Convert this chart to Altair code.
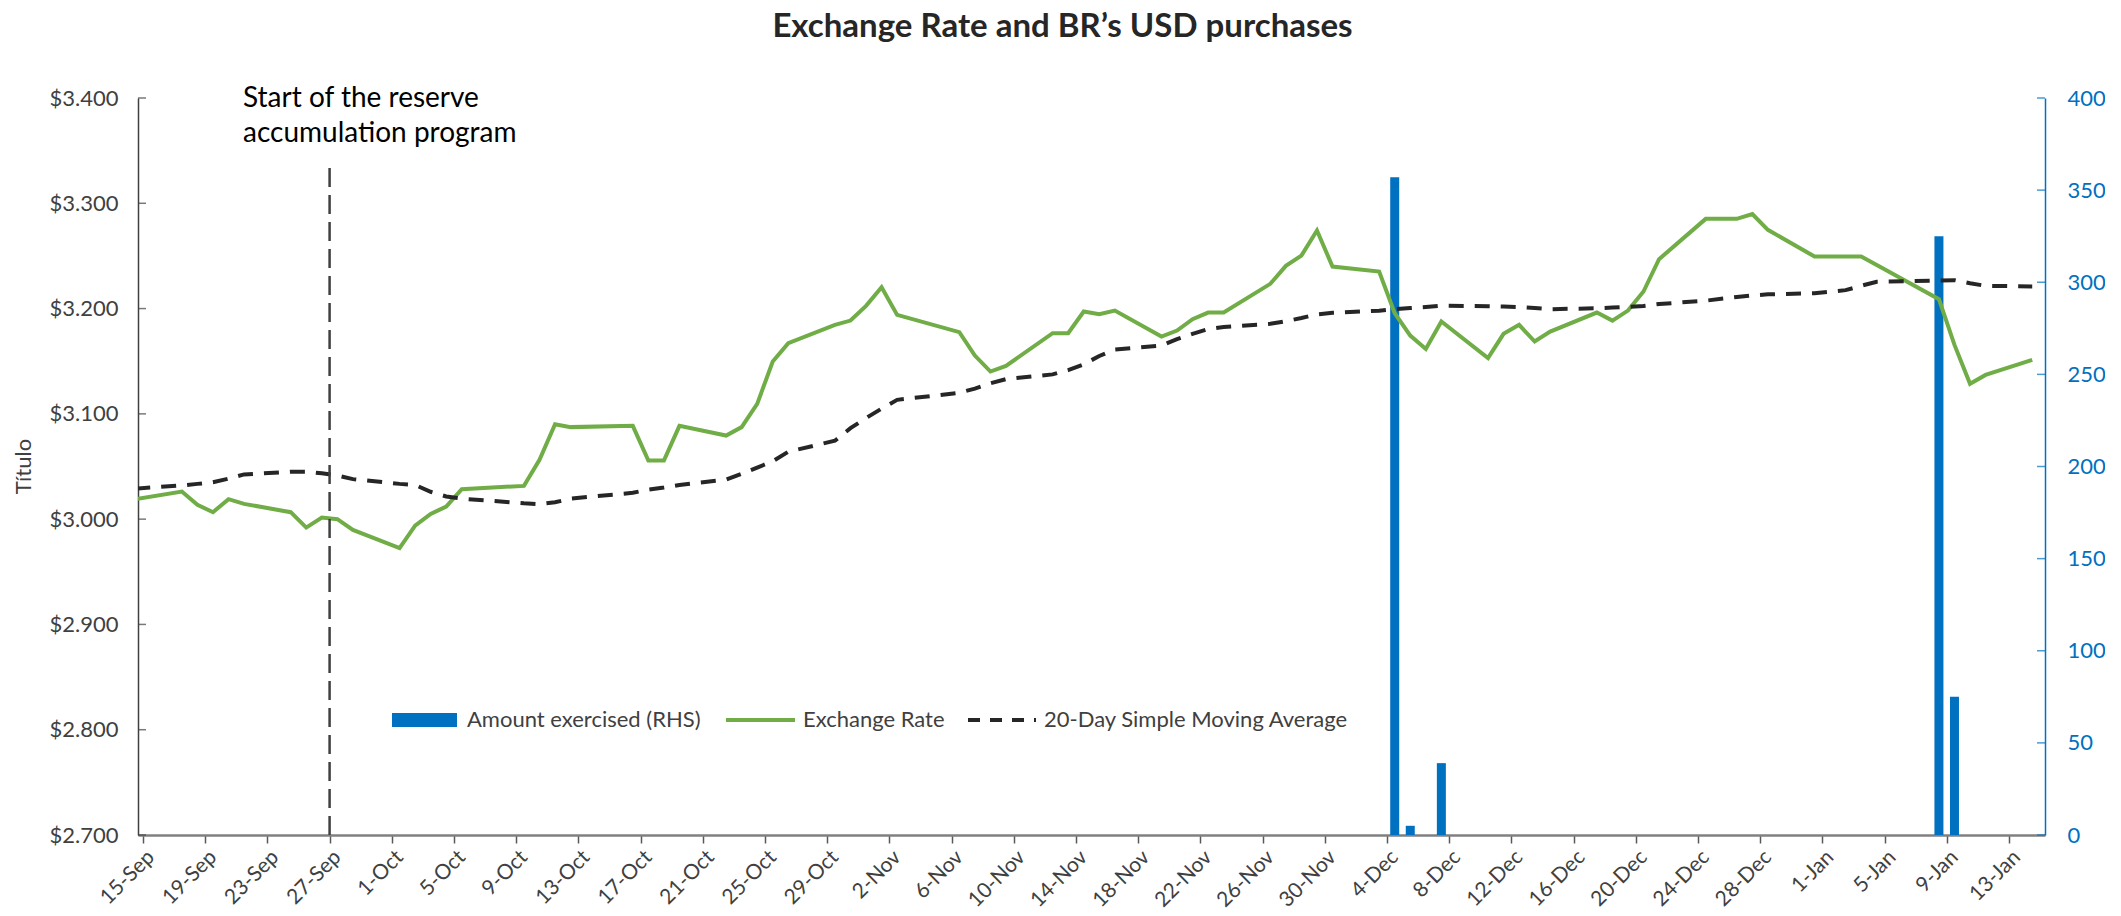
import altair as alt
import pandas as pd

# ---------------- data ----------------
title_text = "Exchange Rate and BR\u2019s USD purchases"
y_title = "Título"
annotation_lines = ["Start of the reserve", "accumulation program"]
legend_labels = ["Amount exercised (RHS)", "Exchange Rate", "20-Day Simple Moving Average"]

rate_dates = ["2018-09-14", "2018-09-17", "2018-09-18", "2018-09-19", "2018-09-20", "2018-09-21",
              "2018-09-24", "2018-09-25", "2018-09-26", "2018-09-27", "2018-09-28", "2018-10-01",
              "2018-10-02", "2018-10-03", "2018-10-04", "2018-10-05", "2018-10-09", "2018-10-10",
              "2018-10-11", "2018-10-12", "2018-10-16", "2018-10-17", "2018-10-18", "2018-10-19",
              "2018-10-22", "2018-10-23", "2018-10-24", "2018-10-25", "2018-10-26", "2018-10-29",
              "2018-10-30", "2018-10-31", "2018-11-01", "2018-11-02", "2018-11-06", "2018-11-07",
              "2018-11-08", "2018-11-09", "2018-11-12", "2018-11-13", "2018-11-14", "2018-11-15",
              "2018-11-16", "2018-11-19", "2018-11-20", "2018-11-21", "2018-11-22", "2018-11-23",
              "2018-11-26", "2018-11-27", "2018-11-28", "2018-11-29", "2018-11-30", "2018-12-03",
              "2018-12-04", "2018-12-05", "2018-12-06", "2018-12-07", "2018-12-10", "2018-12-11",
              "2018-12-12", "2018-12-13", "2018-12-14", "2018-12-17", "2018-12-18", "2018-12-19",
              "2018-12-20", "2018-12-21", "2018-12-24", "2018-12-26", "2018-12-27", "2018-12-28",
              "2018-12-31", "2019-01-02", "2019-01-03", "2019-01-04", "2019-01-08", "2019-01-09",
              "2019-01-10", "2019-01-11", "2019-01-14"]

exchange_rate = [3019, 3026.2, 3013.6, 3006.6, 3019, 3014.5,
                 3006.6, 2992, 3001.5, 3000, 2989.8, 2972.5,
                 2993.9, 3005, 3012, 3028.5, 3031.6, 3056.3,
                 3090.2, 3087.4, 3088.6, 3055.7, 3055.7, 3088.6,
                 3079.4, 3087.4, 3109.5, 3149.7, 3167.1, 3184.5,
                 3188.6, 3202.6, 3220.3, 3194, 3177.6, 3155.4,
                 3140.2, 3145.6, 3176.6, 3176.6, 3197.2, 3194.7,
                 3198.1, 3173.4, 3179.1, 3189.9, 3196.2, 3196.2,
                 3223.5, 3240.6, 3250.3, 3274.1, 3239.9, 3235.1,
                 3195.6, 3174.4, 3161.7, 3187.7, 3152.9, 3176,
                 3184.5, 3168.7, 3178.2, 3196.2, 3188.6, 3198.1,
                 3216.2, 3246.9, 3285.2, 3285.2, 3289.7, 3274.8,
                 3249.4, 3249.4, 3249.4, 3241.3, 3208.9, 3165.5,
                 3128.5, 3137, 3151.3]

sma_20 = [3029, 3032, 3033.5, 3035, 3038.5, 3042.5,
          3045, 3045, 3043.5, 3041.5, 3038, 3033.5,
          3032.5, 3026, 3021.5, 3019.5, 3015, 3014.3,
          3016, 3019.5, 3025, 3028, 3030, 3032.5,
          3037.5, 3043, 3049, 3055, 3064, 3074.5,
          3086.4, 3096, 3105, 3113.3, 3120, 3124,
          3129, 3133, 3137.5, 3141.5, 3147, 3155,
          3161, 3165, 3171, 3176, 3180.5, 3182.5,
          3185.5, 3188, 3191, 3194.5, 3196, 3198,
          3199.5, 3200.5, 3201.5, 3202.8, 3202.3, 3202,
          3201.5, 3200.5, 3199.4, 3200.3, 3201, 3201.7,
          3202.5, 3204.3, 3207.5, 3211, 3212.4, 3213.5,
          3214.6, 3217.5, 3221.6, 3225.5, 3226.5, 3227,
          3224, 3221.6, 3221]

bar_dates = ["2018-12-04", "2018-12-05", "2018-12-07", "2019-01-08", "2019-01-09"]
amount_exercised = [357, 5, 39, 325, 75]

program_start = ["2018-09-27"]
program_line_range = [2700, 3335]

x_tick_dates = ["2018-09-15", "2018-09-19", "2018-09-23", "2018-09-27", "2018-10-01", "2018-10-05",
                "2018-10-09", "2018-10-13", "2018-10-17", "2018-10-21", "2018-10-25", "2018-10-29",
                "2018-11-02", "2018-11-06", "2018-11-10", "2018-11-14", "2018-11-18", "2018-11-22",
                "2018-11-26", "2018-11-30", "2018-12-04", "2018-12-08", "2018-12-12", "2018-12-16",
                "2018-12-20", "2018-12-24", "2018-12-28", "2019-01-01", "2019-01-05", "2019-01-09",
                "2019-01-13"]
x_domain = ["2018-09-15", "2019-01-15"]
left_ticks = [2700, 2800, 2900, 3000, 3100, 3200, 3300, 3400]
right_ticks = [0, 50, 100, 150, 200, 250, 300, 350, 400]

# ---------------- style ----------------
W, H = 1907, 737
FONT = "Lato"
TXT = "#404040"
GREEN = "#70AD47"
BLUE = "#0070C0"
DARK = "#262626"


def dt(s):
    y, m, d = (int(p) for p in s.split("-"))
    return alt.DateTime(year=y, month=m, date=d)


rate_df = pd.DataFrame({
    "date": pd.to_datetime(rate_dates) + pd.Timedelta(hours=12),
    "rate": exchange_rate,
    "sma": sma_20,
})
bar_df = pd.DataFrame({
    "date": pd.to_datetime(bar_dates) + pd.Timedelta(hours=12),
    "amount": amount_exercised,
})
rule_df = pd.DataFrame({
    "date": pd.to_datetime(program_start),
    "y0": [program_line_range[0]],
    "y1": [program_line_range[1]],
})
lt_df = pd.DataFrame({"v": left_ticks})
rt_df = pd.DataFrame({"v": right_ticks})
one = pd.DataFrame({"k": [0]})

x_scale = alt.Scale(domain=[dt(x_domain[0]), dt(x_domain[1])])
y_left = alt.Scale(domain=[2700, 3400], nice=False, zero=False)
y_right = alt.Scale(domain=[0, 400], nice=False)

x_axis = alt.Axis(
    values=[dt(s) for s in x_tick_dates], format="%-d-%b", labelAngle=-45,
    labelAlign="right", labelBaseline="top", labelFontSize=21, labelFont=FONT,
    labelColor=TXT, tickColor="#595959", tickSize=8, tickWidth=1.5,
    domainColor="#808080", domainWidth=2.5, labelPadding=3, grid=False, title=None,
    labelOverlap=False,
)
left_axis = alt.Axis(
    values=left_ticks, labelExpr="'$' + format(datum.value / 1000, '.3f')",
    labelFontSize=22, labelFont=FONT, labelColor=TXT, ticks=False, labelPadding=20,
    domainColor="#404040", domainWidth=1.5, grid=False, title=None,
)
right_axis = alt.Axis(
    values=right_ticks, orient="right", labelFontSize=22, labelFont=FONT,
    labelColor=BLUE, ticks=False, labelPadding=22, domainColor=BLUE,
    domainWidth=1.5, grid=False, title=None,
)

rate_line = alt.Chart(rate_df).mark_line(color=GREEN, strokeWidth=4, clip=True).encode(
    x=alt.X("date:T", scale=x_scale, axis=x_axis),
    y=alt.Y("rate:Q", scale=y_left, axis=left_axis),
)
sma_line = alt.Chart(rate_df).mark_line(color=DARK, strokeWidth=4, strokeDash=[15, 11], clip=True).encode(
    x=alt.X("date:T", scale=x_scale),
    y=alt.Y("sma:Q", scale=y_left),
)
start_rule = alt.Chart(rule_df).mark_rule(color="#404040", strokeWidth=2.5, strokeDash=[19, 8]).encode(
    x=alt.X("date:T", scale=x_scale),
    y=alt.Y("y0:Q", scale=y_left),
    y2="y1:Q",
)
lticks = alt.Chart(lt_df).mark_tick(color="#404040", size=8, thickness=1.5).encode(
    x=alt.value(4),
    y=alt.Y("v:Q", scale=y_left),
)

annotation = alt.Chart(one).mark_text(
    text=annotation_lines, font=FONT, fontSize=28, color="#000000", align="left",
    baseline="alphabetic", lineHeight=35,
).encode(x=alt.value(105), y=alt.value(9))

ytitle = alt.Chart(one).mark_text(
    text=y_title, font=FONT, fontSize=22, color=TXT, angle=270,
    align="center", baseline="middle",
).encode(x=alt.value(-114), y=alt.value(H / 2))

LY = 622
leg_bar = alt.Chart(one).mark_rect(color=BLUE).encode(
    x=alt.value(254), x2=alt.value(319), y=alt.value(LY - 7), y2=alt.value(LY + 7))
leg_green = alt.Chart(one).mark_rule(color=GREEN, strokeWidth=4).encode(
    x=alt.value(588), x2=alt.value(657), y=alt.value(LY))
leg_dash = alt.Chart(one).mark_rule(color=DARK, strokeWidth=4, strokeDash=[12, 10]).encode(
    x=alt.value(830), x2=alt.value(898), y=alt.value(LY))
leg_texts = [
    alt.Chart(one).mark_text(text=lbl, font=FONT, fontSize=22, color=TXT, align="left",
                             baseline="middle").encode(x=alt.value(px), y=alt.value(LY))
    for lbl, px in zip(legend_labels, [329, 665, 906])
]

left_group = alt.layer(rate_line, sma_line, start_rule, lticks, annotation, ytitle,
                       leg_bar, leg_green, leg_dash, *leg_texts)

bars = alt.Chart(bar_df).mark_bar(color=BLUE, size=9).encode(
    x=alt.X("date:T", scale=x_scale),
    y=alt.Y("amount:Q", scale=y_right, axis=right_axis),
)
rticks = alt.Chart(rt_df).mark_tick(color=BLUE, size=8, thickness=1.5).encode(
    x=alt.value(W - 4),
    y=alt.Y("v:Q", scale=y_right),
)
right_group = alt.layer(bars, rticks)

chart = alt.layer(right_group, left_group).resolve_scale(y="independent").properties(
    width=W, height=H,
    title=alt.TitleParams(
        text=title_text, font=FONT, fontSize=33, fontWeight="bold", color=DARK,
        anchor="middle", frame="group", dx=-29, offset=41,
    ),
    padding={"left": 130, "top": 90, "right": 60, "bottom": 80},
    autosize=alt.AutoSizeParams(type="none"),
).configure_view(stroke=None)

chart.save("out.html", embed_options={"renderer": "svg", "actions": False})
